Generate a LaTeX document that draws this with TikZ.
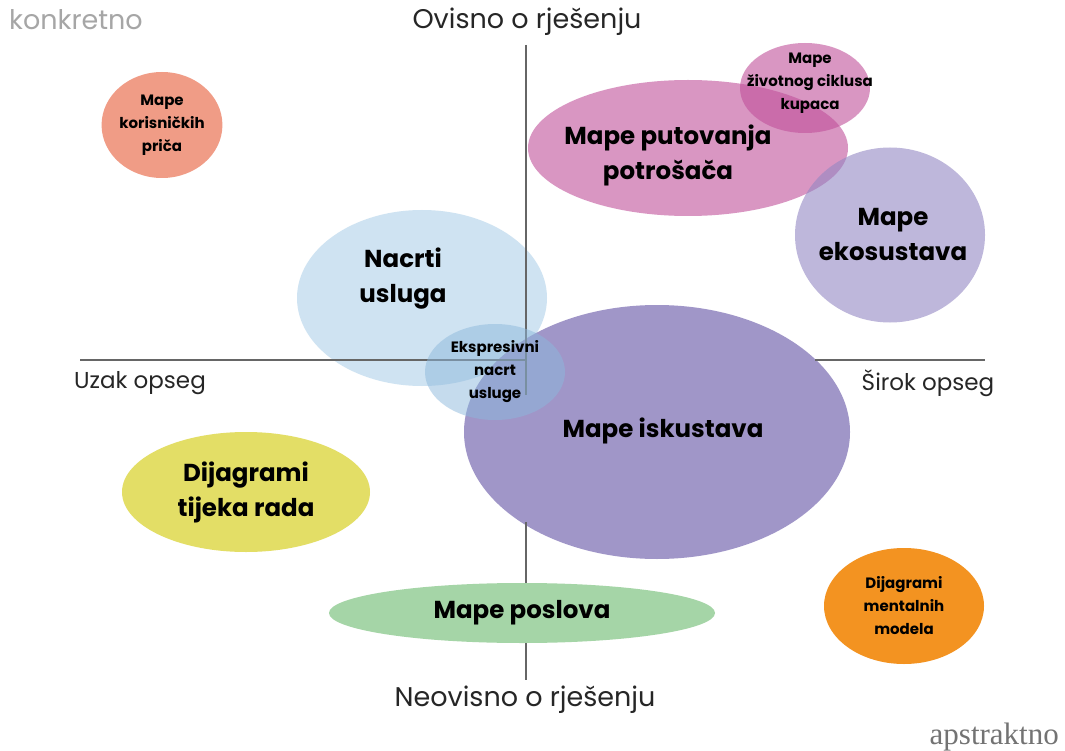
\documentclass[tikz,border=0pt]{standalone}
\usepackage{fontspec}
\setmainfont{Poppins}
\newfontfamily\apsfont{Liberation Serif}
\usetikzlibrary{shapes.geometric}

\definecolor{blueblob}{HTML}{CFE3F2}
\definecolor{exblue}{HTML}{8CB8DC}
\definecolor{purpleblob}{HTML}{A096C8}
\definecolor{pinkblob}{HTML}{C0509A}
\definecolor{lavblob}{HTML}{9387C3}
\definecolor{salmonblob}{HTML}{F09C86}
\definecolor{yellowblob}{HTML}{E3DE66}
\definecolor{greenblob}{HTML}{A5D5A7}
\definecolor{orangeblob}{HTML}{F39321}
\definecolor{axisgray}{HTML}{666666}

\begin{document}
\begin{tikzpicture}[
                x=1pt, y=-1pt,
                blob/.style={ellipse,inner sep=0pt,outer sep=0pt,align=center,
                    font=\bfseries\fontsize{24.5}{35}\selectfont},
                smallblob/.style={blob,font=\bfseries\fontsize{15}{23}\selectfont},
                axislabel/.style={inner sep=0pt,font=\fontsize{27}{30}\selectfont,text=black!85},
                sidelabel/.style={axislabel,font=\fontsize{23}{28}\selectfont},
                axisline/.style={draw=axisgray,line width=2.5pt}
            ]
                \useasboundingbox[fill=white] (0,0) rectangle (1065,751);
                % blobs under the axes
                \node (nacrti) [blob,fill=blueblob,minimum width=250pt,minimum height=176pt] at (422,298) {};
                \node (nacrtiT) [blob] at (403,279) {Nacrti\\usluga};
                \node (iskustva) [blob,fill=purpleblob,minimum width=386pt,minimum height=254pt] at (657,432) {};
                \node (iskustvaT) [blob] at (663,431) {Mape iskustava};
                % axes
                \coordinate (vT) at (526,45);
                \coordinate (vM) at (526,395);
                \coordinate (vB1) at (526,522);
                \coordinate (vB) at (526,680);
                \coordinate (hL) at (80,360);
                \coordinate (hC) at (526,360);
                \coordinate (hR1) at (815,360);
                \coordinate (hR) at (985,360);
                \draw[axisline] (vT) -- (vM);
                \draw[axisline] (vB1) -- (vB);
                \draw[axisline] (hL) -- (hC);
                \draw[axisline] (hR1) -- (hR);
                % blobs over the axes
                \node (ekspr) [smallblob,fill=exblue,fill opacity=0.5,text opacity=1,minimum width=140pt,minimum height=96pt] at (495,372) {Ekspresivni\\nacrt\\usluge};
                \node (putovanja) [blob,fill=pinkblob,fill opacity=0.6,text opacity=1,minimum width=320pt,minimum height=136pt] at (688,148) {};
                \node (putovanjaT) [blob] at (668,155) {Mape putovanja\\potrošača};
                \node (ciklus) [smallblob,fill=pinkblob,fill opacity=0.6,text opacity=1,minimum width=130pt,minimum height=90pt] at (805,88) {};
                \node (ciklusT) [smallblob] at (810,83) {Mape\\životnog ciklusa\\kupaca};
                \node (ekosustav) [blob,fill=lavblob,fill opacity=0.6,minimum width=190pt,minimum height=175pt] at (890,235) {};
                \node (ekosustavT) [blob] at (893,234) {Mape\\ekosustava};
                \node (korisnici) [smallblob,fill=salmonblob,minimum width=106pt,minimum height=106pt] at (162,125) {Mape\\korisničkih\\priča};
                \node (tijek) [blob,fill=yellowblob,minimum width=248pt,minimum height=120pt] at (246,492) {Dijagrami\\tijeka rada};
                \node (poslovi) [blob,fill=greenblob,minimum width=386pt,minimum height=60pt] at (522,613) {Mape poslova};
                \node (mentalni) [smallblob,fill=orangeblob,minimum width=160pt,minimum height=116pt] at (904,606) {Dijagrami\\mentalnih\\modela};
                % axis labels
                \node (gore) [axislabel] at (527,22) {Ovisno o rješenju};
                \node (dolje) [axislabel] at (525,700) {Neovisno o rješenju};
                \node (lijevo) [sidelabel] at (140,383) {Uzak opseg};
                \node (desno) [sidelabel] at (928,383) {Širok opseg};
                \node (konkretno) [axislabel,anchor=west,text=black!35] at (9,20) {konkretno};
                \node (apstraktno) [inner sep=0pt,anchor=east,text=black!55,font=\apsfont\fontsize{31}{34}\selectfont] at (1059,737) {apstraktno};
            \end{tikzpicture}
\end{document}
